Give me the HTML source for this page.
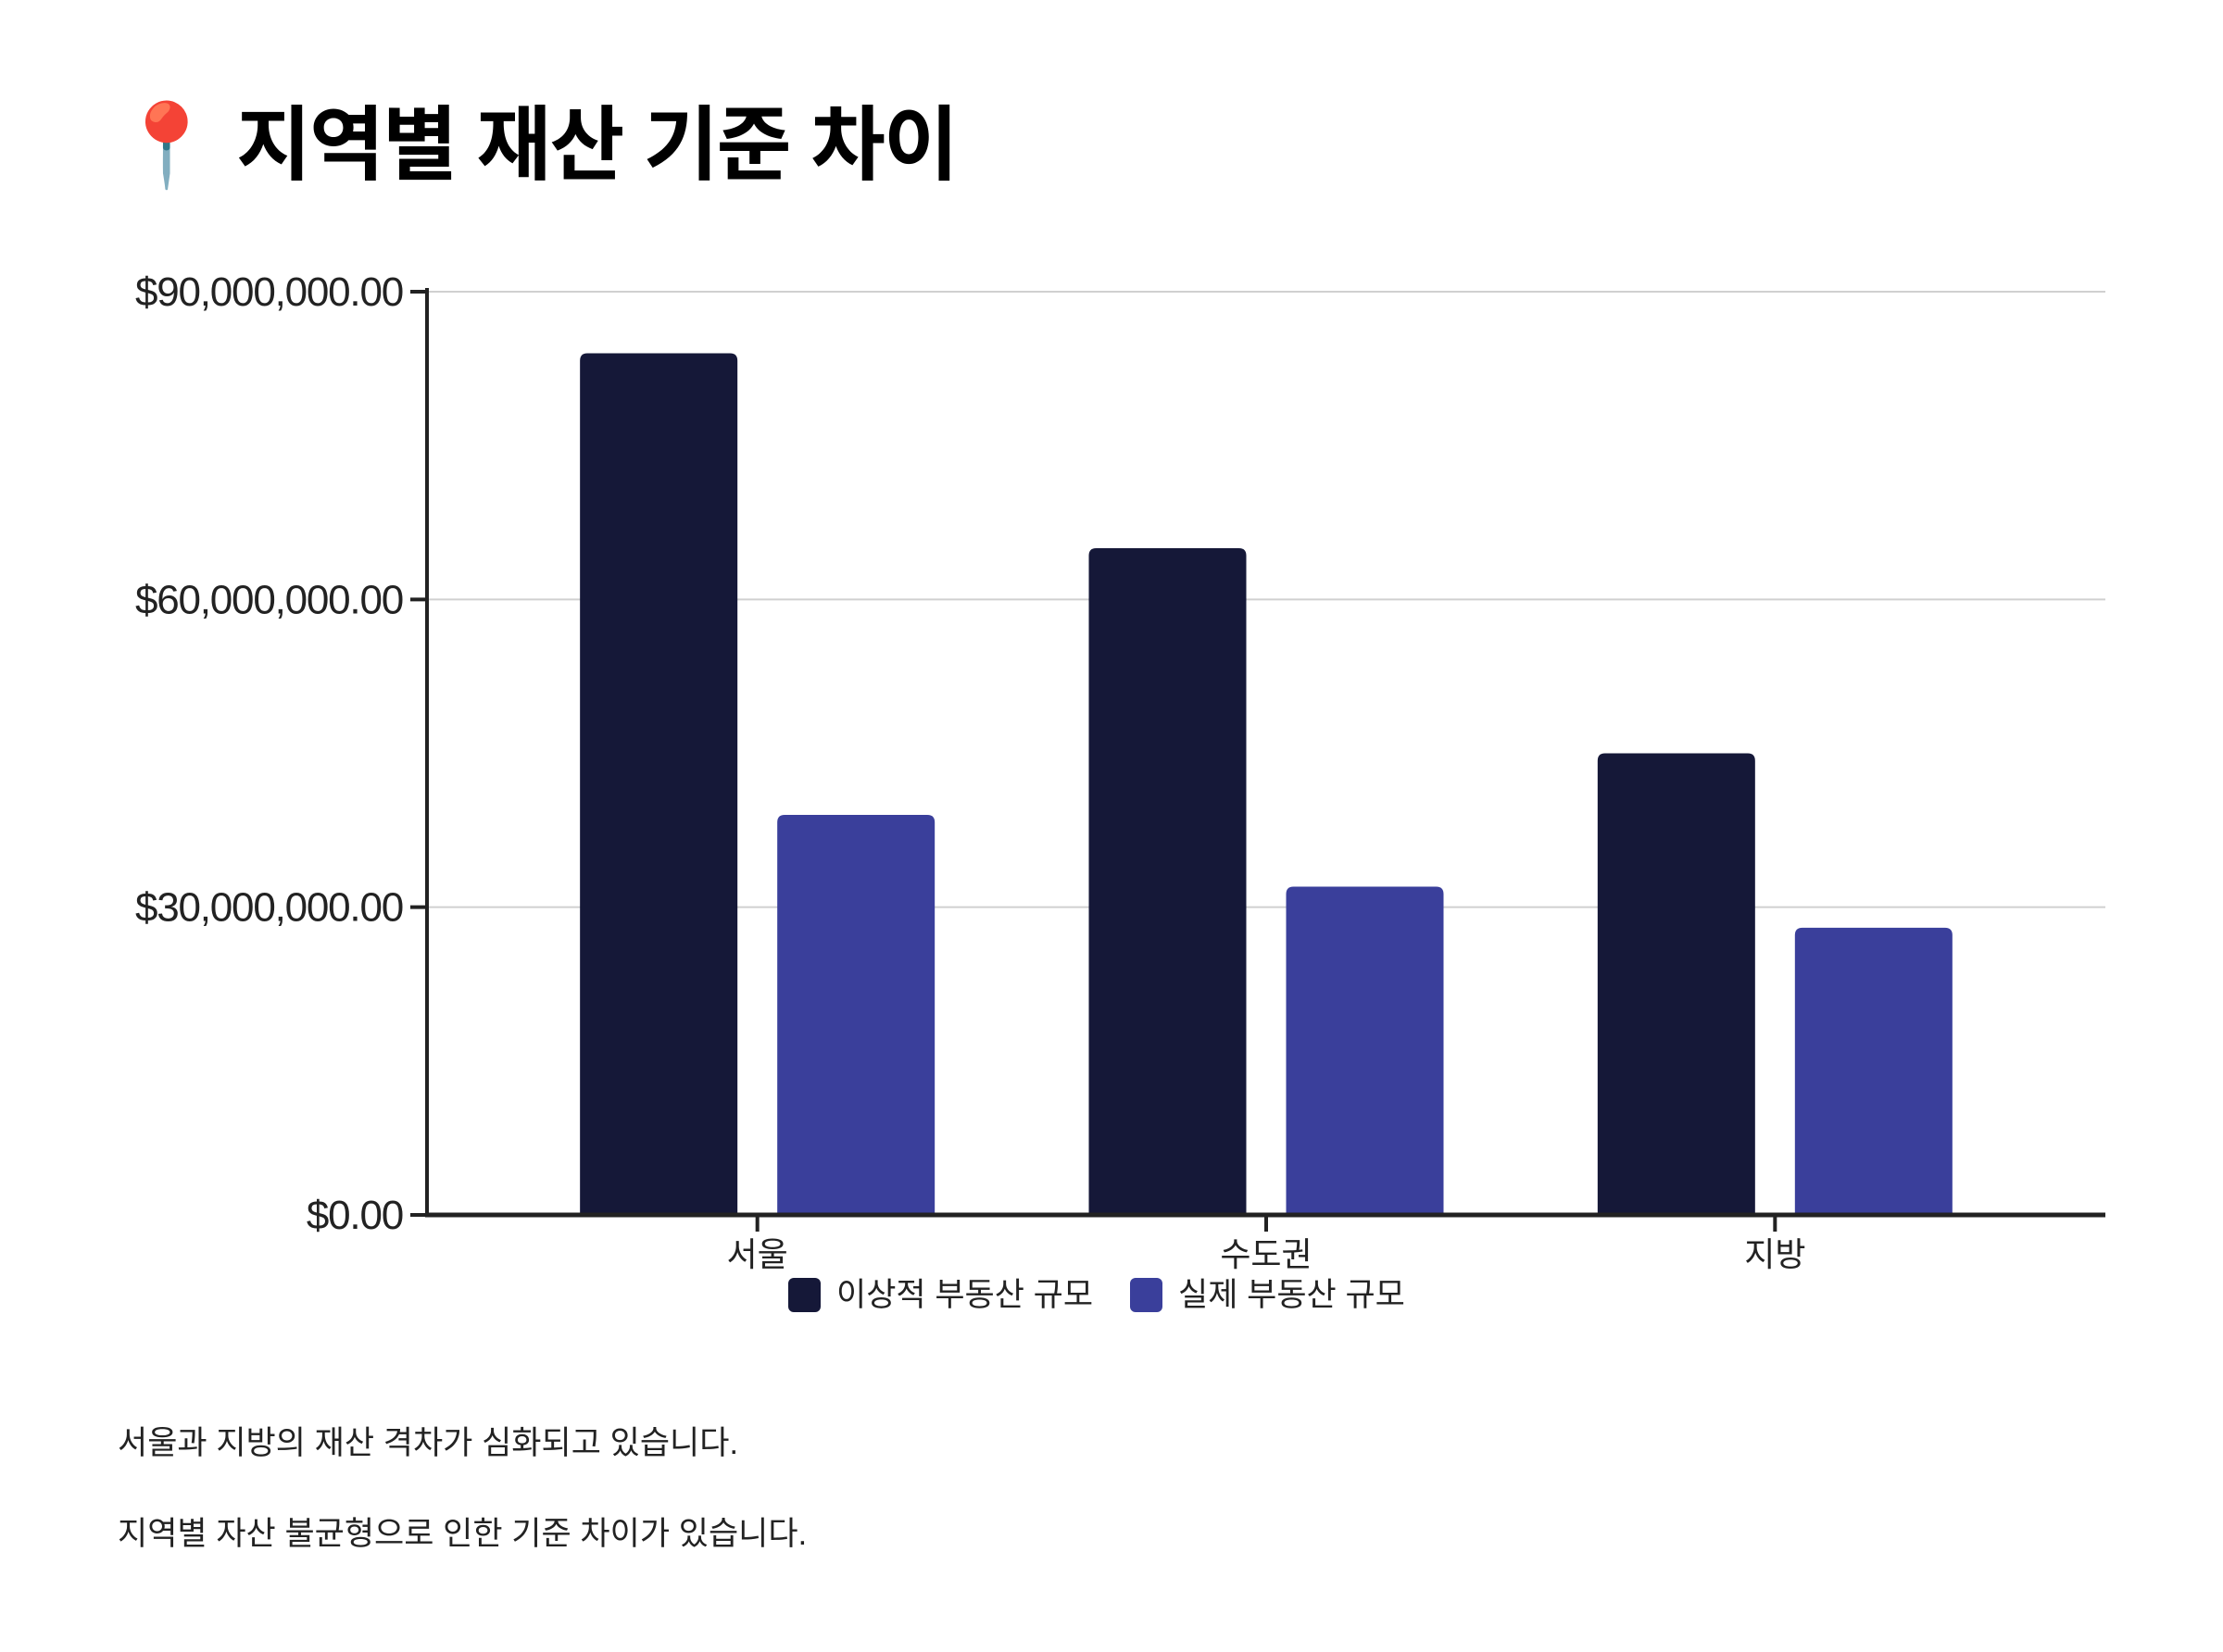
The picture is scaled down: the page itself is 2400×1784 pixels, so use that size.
<!DOCTYPE html>
<html><head><meta charset="utf-8">
<style>
html,body{margin:0;padding:0;background:#fff;}
body{width:2400px;height:1784px;position:relative;overflow:hidden;font-family:"Liberation Sans","Noto Sans CJK KR",sans-serif;}
.title{position:absolute;left:125px;top:86px;font-size:88px;font-weight:bold;color:#000;font-family:"Liberation Sans","Noto Sans CJK KR",sans-serif;letter-spacing:-2px;white-space:nowrap;}
.p{position:absolute;left:127px;font-size:35px;color:#222;white-space:nowrap;}
</style></head>
<body>
<div class="title"><span>📍</span> 지역별 재산 기준 차이</div>
<svg id="chart" width="2400" height="1784" style="position:absolute;left:0;top:0" xmlns="http://www.w3.org/2000/svg"></svg>
<div class="p" style="top:1530px">서울과 지방의 재산 격차가 심화되고 있습니다.</div>
<div class="p" style="top:1628px">지역별 자산 불균형으로 인한 기준 차이가 있습니다.</div>
<script>
const categories = ["서울","수도권","지방"];
const idealValues = [84000000,65000000,45000000];
const actualValues = [39000000,32000000,28000000];
const tickValues = [0,30000000,60000000,90000000];
const tickLabels = ["$0.00","$30,000,000.00","$60,000,000.00","$90,000,000.00"];
const seriesNames = ["이상적 부동산 규모","실제 부동산 규모"];

const NS="http://www.w3.org/2000/svg";
const svg=document.getElementById('chart');
const X0=461,X1=2273,Y0=1312,Ytop=315,VMAX=90000000;
const y=v=>Y0-(v/VMAX)*(Y0-Ytop);
const PAD=82;
const step=(X1-X0-2*PAD)/categories.length;
const cx=i=>X0+PAD+step*(i+0.5);
const BW=170,GAP=43;
function mk(t,a){const e=document.createElementNS(NS,t);for(const k in a)e.setAttribute(k,a[k]);svg.appendChild(e);return e;}
tickValues.forEach((v,i)=>{
  if(v>0){const g=mk('line',{x1:X0,x2:X1,y1:y(v),y2:y(v),stroke:'#d0d0d0','stroke-width':2});
  
  }
  const t=mk('line',{x1:X0-18,x2:X0,y1:y(v),y2:y(v),stroke:'#222','stroke-width':4});
  
  
  const l=mk('text',{x:X0-26,y:y(v)+15,'text-anchor':'end','font-size':44,fill:'#222','font-family':'Liberation Sans, sans-serif','letter-spacing':'-1.2'});
  l.textContent=tickLabels[i];
  
  
});
function bar(x,v,color,name){
  const top=y(v),r=8,w=BW;
  const d=`M${x},${Y0} L${x},${top+r} Q${x},${top} ${x+r},${top} L${x+w-r},${top} Q${x+w},${top} ${x+w},${top+r} L${x+w},${Y0} Z`;
  const p=mk('path',{d:d,fill:color});
  
  
}
categories.forEach((c,i)=>{
  bar(cx(i)-GAP/2-BW,idealValues[i],'#151838','bar-ideal-'+i);
  bar(cx(i)+GAP/2,actualValues[i],'#3a3f9b','bar-actual-'+i);
  const t=mk('line',{x1:cx(i),x2:cx(i),y1:Y0,y2:Y0+18,stroke:'#222','stroke-width':4});
  
  
  const l=mk('text',{x:cx(i),y:Y0+55,'text-anchor':'middle','font-size':36,fill:'#222','font-family':'Liberation Sans, Noto Sans CJK KR, sans-serif'});
  l.textContent=c;
  
  
});
const ax=mk('line',{x1:X0,x2:X0,y1:Ytop-4,y2:Y0+2,stroke:'#222','stroke-width':4});


const bx=mk('line',{x1:X0-2,x2:X1,y1:Y0,y2:Y0,stroke:'#222','stroke-width':5});


const legX=[851,1220],colors=['#151838','#3a3f9b'];
seriesNames.forEach((n,i)=>{
  const s=mk('rect',{x:legX[i],y:1380,width:35,height:37,rx:6,fill:colors[i]});
  
  
  const t=mk('text',{x:legX[i]+52,y:1410,'font-size':35,fill:'#222','font-family':'Liberation Sans, Noto Sans CJK KR, sans-serif'});
  t.textContent=n;
  
  
});
</script>
</body></html>
